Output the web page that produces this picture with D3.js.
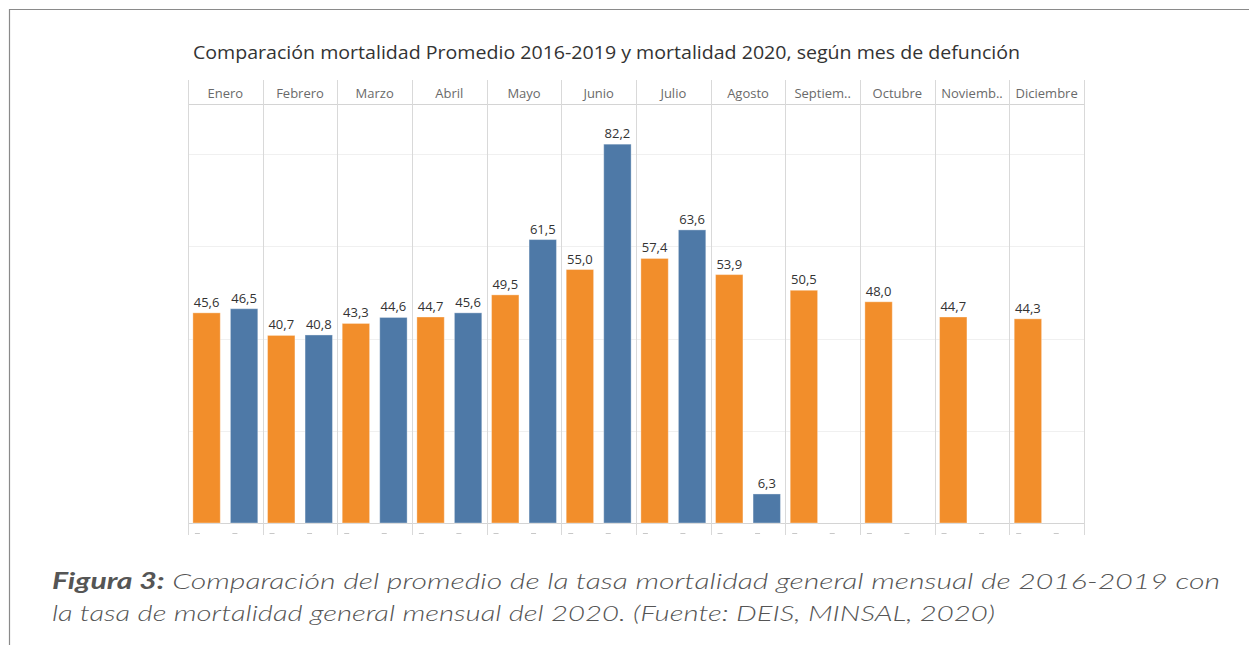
<!DOCTYPE html>
<html>
<head>
<meta charset="utf-8">
<script src="https://cdn.jsdelivr.net/npm/d3@7"></script>
<style>
  body { margin: 0; background: #fff; }
</style>
</head>
<body>
<div id="chart"></div>
<script>
const months = ["Enero", "Febrero", "Marzo", "Abril", "Mayo", "Junio", "Julio",
  "Agosto", "Septiembre", "Octubre", "Noviembre", "Diciembre"];
const monthLabels = ["Enero", "Febrero", "Marzo", "Abril", "Mayo", "Junio", "Julio",
  "Agosto", "Septiem..", "Octubre", "Noviemb..", "Diciembre"];
const series = ["Promedio 2016-2019", "2020"];
const promedio = [45.6, 40.7, 43.3, 44.7, 49.5, 55.0, 57.4, 53.9, 50.5, 48.0, 44.7, 44.3];
const y2020 = [46.5, 40.8, 44.6, 45.6, 61.5, 82.2, 63.6, 6.3, null, null, null, null];
const yTicks = [20, 40, 60, 80];

const width = 1249, height = 645;
const colors = { "Promedio 2016-2019": "#f28e2b", "2020": "#4e79a7" };

const svg = d3.select("#chart").append("svg")
  .attr("width", width).attr("height", height)
  .style("font-family", "'Open Sans', sans-serif");

// page frame
svg.append("path")
  .attr("d", "M9.5,645 V9.5 H1249")
  .attr("fill", "none").attr("stroke", "#8a8a8a").attr("stroke-width", 1.2);

const plotLeft = 188, plotRight = 1084, plotTop = 105, base = 523;

const x = d3.scaleBand().domain(months).range([plotLeft, plotRight]);
const xi = d3.scaleBand().domain(series).range([0, x.bandwidth()])
  .paddingInner(0.27).paddingOuter(0.13);
const y = d3.scaleLinear().domain([0, 90.7]).range([base, plotTop]);

const rows = months.map((m, i) => ({
  month: m,
  values: [
    { key: series[0], value: promedio[i] },
    { key: series[1], value: y2020[i] }
  ]
}));

// title
svg.append("text")
  .attr("x", 193).attr("y", 59)
  .attr("font-size", 18.5).attr("font-weight", 500).attr("fill", "#333")
  .attr("textLength", 827).attr("lengthAdjust", "spacingAndGlyphs")
  .text("Comparación mortalidad Promedio 2016-2019 y mortalidad 2020, según mes de defunción");

// horizontal gridlines
svg.append("g").selectAll("line").data(yTicks).join("line")
  .attr("x1", plotLeft).attr("x2", plotRight)
  .attr("y1", d => Math.round(y(d)) + 0.5).attr("y2", d => Math.round(y(d)) + 0.5)
  .attr("stroke", "#f0f0f0");

// header row line and baseline
svg.append("line").attr("x1", plotLeft).attr("x2", plotRight)
  .attr("y1", plotTop - 0.5).attr("y2", plotTop - 0.5).attr("stroke", "#d4d4d4");
svg.append("line").attr("x1", plotLeft).attr("x2", plotRight)
  .attr("y1", base + 0.5).attr("y2", base + 0.5).attr("stroke", "#d4d4d4");

// column dividers
const edges = months.map(m => x(m)).concat([plotRight]);
svg.append("g").selectAll("line").data(edges).join("line")
  .attr("x1", d => Math.round(d) + 0.5).attr("x2", d => Math.round(d) + 0.5)
  .attr("y1", 80).attr("y2", 535)
  .attr("stroke", "#d9d9d9");

// header labels
svg.append("g").selectAll("text").data(monthLabels).join("text")
  .attr("x", (d, i) => x(months[i]) + x.bandwidth() / 2)
  .attr("y", 98)
  .attr("text-anchor", "middle")
  .attr("font-size", 13).attr("fill", "#6a6a6a")
  .text(d => d);

const groups = svg.append("g").selectAll("g").data(rows).join("g")
  .attr("transform", d => `translate(${x(d.month)},0)`);

// bars
groups.selectAll("rect").data(d => d.values.filter(v => v.value != null)).join("rect")
  .attr("x", d => xi(d.key))
  .attr("y", d => y(d.value))
  .attr("width", xi.bandwidth())
  .attr("height", d => base - y(d.value))
  .attr("fill", d => colors[d.key])
  .attr("stroke", "#fff").attr("stroke-opacity", 0.35).attr("stroke-width", 1);

// value labels
groups.selectAll("text.val").data(d => d.values.filter(v => v.value != null)).join("text")
  .attr("class", "val")
  .attr("x", d => xi(d.key) + xi.bandwidth() / 2)
  .attr("y", d => y(d.value) - 6)
  .attr("text-anchor", "middle")
  .attr("font-size", 13).attr("fill", "#333")
  .text(d => d3.format(".1f")(d.value).replace(".", ","));

// small dash labels under each bar slot
groups.selectAll("line.dash").data(series).join("line")
  .attr("class", "dash")
  .attr("x1", d => xi(d) + 2).attr("x2", d => xi(d) + 7)
  .attr("y1", 533.5).attr("y2", 533.5)
  .attr("stroke", "#c8c8c8");

// caption
const cap = svg.append("g")
  .attr("font-family", "Lato, sans-serif")
  .attr("font-style", "italic")
  .attr("font-weight", 300)
  .attr("font-size", 22).attr("fill", "#555");
const l1 = cap.append("text").attr("x", 52).attr("y", 589)
  .attr("textLength", 1168).attr("lengthAdjust", "spacingAndGlyphs");
l1.append("tspan").attr("font-weight", "bold").text("Figura 3:");
l1.append("tspan").text(" Comparación del promedio de la tasa mortalidad general mensual de 2016-2019 con");
cap.append("text").attr("x", 52).attr("y", 621)
  .attr("textLength", 943).attr("lengthAdjust", "spacingAndGlyphs")
  .text("la tasa de mortalidad general mensual del 2020. (Fuente: DEIS, MINSAL, 2020)");
</script>
</body>
</html>
